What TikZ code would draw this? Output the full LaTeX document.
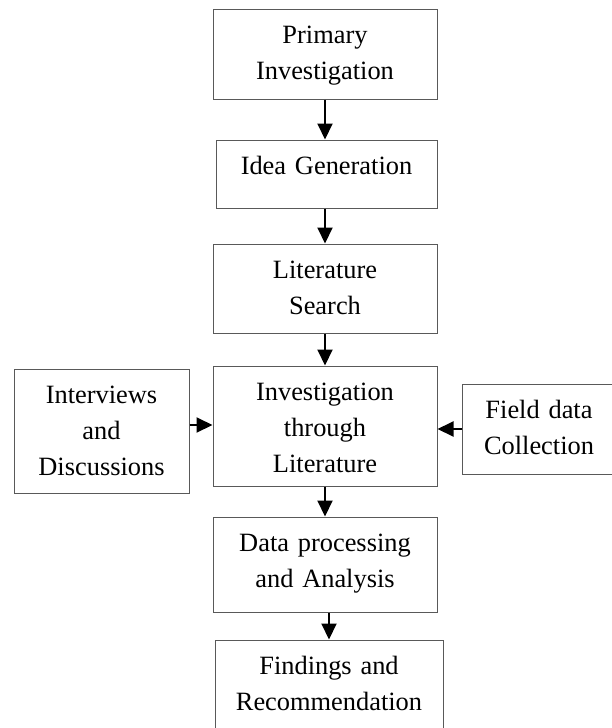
\documentclass[tikz,border=0pt]{standalone}
\usepackage{fontspec}
\setmainfont{Liberation Serif}
\usetikzlibrary{arrows.meta}

\begin{document}
\begin{tikzpicture}[x=1pt,y=1pt,
    stage/.style={draw=black!65, line width=.5pt, inner sep=0pt, align=center,
      text height=17pt, font=\fontsize{13.2}{18}\selectfont},
    flow/.style={line width=1pt, -{Triangle[length=8pt,width=7.5pt]}}]
    \useasboundingbox (0,0) rectangle (305.5,-364);
    % main column
    \node[stage, text width=112pt, text depth=28pt]   (prim)  at (162.5,-27)    {Primary\\Investigation};
    \node[stage, text width=110.5pt, text depth=17pt] (idea)  at (163.25,-87)   {Idea Generation};
    \node[stage, text width=112pt, text depth=27.5pt] (lit)   at (162.5,-144.25) {Literature\\Search};
    \node[stage, text width=112pt, text depth=43pt]   (inv)   at (162.5,-213)   {Investigation\\through\\Literature};
    \node[stage, text width=112pt, text depth=30.5pt] (proc)  at (162.5,-282.25) {Data processing\\and Analysis};
    \node[stage, text width=114pt, text depth=31pt]   (find)  at (164.5,-344)   {Findings and\\Recommendation};
    % side inputs
    \node[stage, text width=87.5pt, text depth=45pt]  (intv)  at (50.75,-215.5) {Interviews\\and\\Discussions};
    \node[stage, text width=77pt, text depth=28pt]    (field) at (269.5,-214.5) {Field data\\Collection};
    % arrows
    \draw[flow] (prim.south) -- (prim.south |- idea.north);
    \draw[flow] (lit.north |- idea.south) -- (lit.north);
    \draw[flow] (lit.south) -- (inv.north);
    \draw[flow] (inv.south) -- (proc.north);
    \draw[flow] (find.north |- proc.south) -- (find.north);
    \draw[flow] ([yshift=3pt]intv.east) -- ([yshift=3pt]intv.east -| inv.west);
    \draw[flow] (field.west) -- (field.west -| inv.east);
\end{tikzpicture}
\end{document}
